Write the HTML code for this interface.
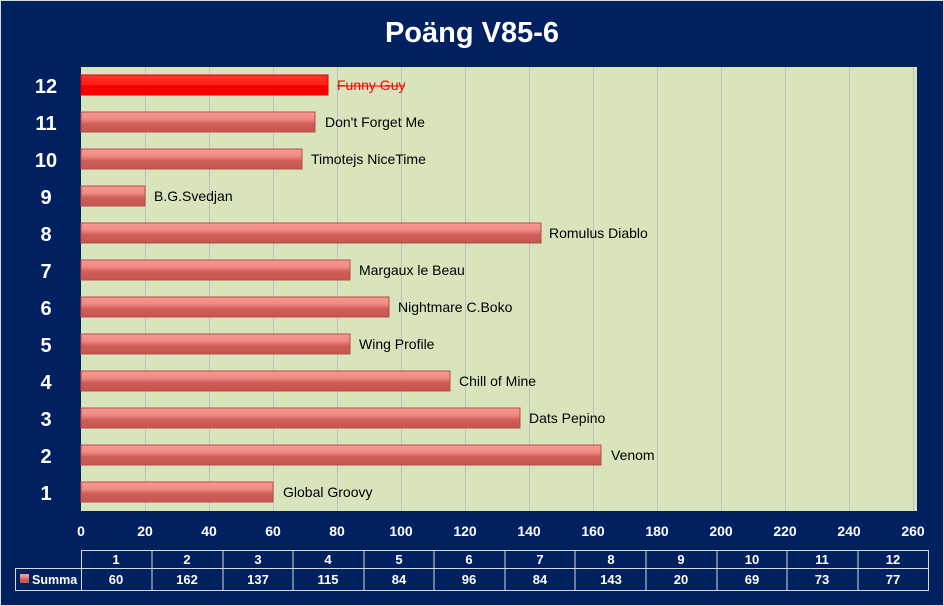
<!DOCTYPE html>
<html><head><meta charset="utf-8"><style>
html,body{margin:0;padding:0;background:#fff}
svg{display:block}
text{font-family:"Liberation Sans",sans-serif}
</style></head><body>
<svg width="944" height="606" xmlns="http://www.w3.org/2000/svg">
<defs>
<linearGradient id="g" x1="0" y1="0" x2="0" y2="1">
<stop offset="0" stop-color="#f99a92"/><stop offset="0.35" stop-color="#ef8a83"/><stop offset="0.6" stop-color="#cf5c57"/><stop offset="1" stop-color="#c65651"/>
</linearGradient>
<linearGradient id="r" x1="0" y1="0" x2="0" y2="1">
<stop offset="0" stop-color="#ff3a30"/><stop offset="0.5" stop-color="#ff1a10"/><stop offset="0.55" stop-color="#f00000"/><stop offset="1" stop-color="#ff0000"/>
</linearGradient>
</defs>
<rect x="0" y="0" width="944" height="606" fill="#d9d9d9"/>
<rect x="1" y="1" width="942" height="604" fill="#002060"/>
<text x="472" y="42" text-anchor="middle" fill="#fff" font-size="29" font-weight="bold">Poäng  V85-6</text>
<rect x="81" y="67" width="836" height="444" fill="#d8e4bc"/>
<g stroke="#bfbfbf" stroke-width="1">
<line x1="145.5" y1="67" x2="145.5" y2="511"/><line x1="209.5" y1="67" x2="209.5" y2="511"/><line x1="273.5" y1="67" x2="273.5" y2="511"/><line x1="337.5" y1="67" x2="337.5" y2="511"/><line x1="401.5" y1="67" x2="401.5" y2="511"/><line x1="465.5" y1="67" x2="465.5" y2="511"/><line x1="529.5" y1="67" x2="529.5" y2="511"/><line x1="593.5" y1="67" x2="593.5" y2="511"/><line x1="657.5" y1="67" x2="657.5" y2="511"/><line x1="721.5" y1="67" x2="721.5" y2="511"/><line x1="785.5" y1="67" x2="785.5" y2="511"/><line x1="849.5" y1="67" x2="849.5" y2="511"/><line x1="913.5" y1="67" x2="913.5" y2="511"/>
</g>
<g font-size="14" fill="#000">
<rect x="81" y="75" width="247" height="20" fill="url(#r)" stroke="#e00000"/>
<text x="337" y="90" fill="#ff0000">Funny Guy</text>
<line x1="337" y1="86" x2="405" y2="86" stroke="#ff0000" stroke-width="1"/>
<rect x="81" y="112" width="234" height="20" fill="url(#g)" stroke="#b84c48"/><text x="325" y="127">Don't Forget Me</text>
<rect x="81" y="149" width="221" height="20" fill="url(#g)" stroke="#b84c48"/><text x="311" y="164">Timotejs NiceTime</text>
<rect x="81" y="186" width="64" height="20" fill="url(#g)" stroke="#b84c48"/><text x="154" y="201">B.G.Svedjan</text>
<rect x="81" y="223" width="460" height="20" fill="url(#g)" stroke="#b84c48"/><text x="549" y="238">Romulus Diablo</text>
<rect x="81" y="260" width="269" height="20" fill="url(#g)" stroke="#b84c48"/><text x="359" y="275">Margaux le Beau</text>
<rect x="81" y="297" width="308" height="20" fill="url(#g)" stroke="#b84c48"/><text x="398" y="312">Nightmare C.Boko</text>
<rect x="81" y="334" width="269" height="20" fill="url(#g)" stroke="#b84c48"/><text x="359" y="349">Wing Profile</text>
<rect x="81" y="371" width="369" height="20" fill="url(#g)" stroke="#b84c48"/><text x="459" y="386">Chill of Mine</text>
<rect x="81" y="408" width="439" height="20" fill="url(#g)" stroke="#b84c48"/><text x="529" y="423">Dats Pepino</text>
<rect x="81" y="445" width="520" height="20" fill="url(#g)" stroke="#b84c48"/><text x="611" y="460">Venom</text>
<rect x="81" y="482" width="192" height="20" fill="url(#g)" stroke="#b84c48"/><text x="283" y="497">Global Groovy</text>
</g>
<g fill="#fff" font-size="20" font-weight="bold" text-anchor="middle">
<text x="46" y="93">12</text><text x="46" y="130">11</text><text x="46" y="167">10</text><text x="46" y="204">9</text><text x="46" y="241">8</text><text x="46" y="278">7</text><text x="46" y="315">6</text><text x="46" y="352">5</text><text x="46" y="389">4</text><text x="46" y="426">3</text><text x="46" y="463">2</text><text x="46" y="500">1</text>
</g>
<g fill="#fff" font-size="14" font-weight="bold" text-anchor="middle">
<text x="81" y="536">0</text><text x="145" y="536">20</text><text x="209" y="536">40</text><text x="273" y="536">60</text><text x="337" y="536">80</text><text x="401" y="536">100</text><text x="465" y="536">120</text><text x="529" y="536">140</text><text x="593" y="536">160</text><text x="657" y="536">180</text><text x="721" y="536">200</text><text x="785" y="536">220</text><text x="849" y="536">240</text><text x="913" y="536">260</text>
</g>
<g stroke="#d9d9d9" stroke-width="1" fill="none">
<rect x="81.5" y="550.5" width="847" height="40"/>
<rect x="15.5" y="568.5" width="66" height="22"/>
<line x1="81.5" y1="568.5" x2="928.5" y2="568.5"/>
<line x1="152" y1="550" x2="152" y2="591"/><line x1="223" y1="550" x2="223" y2="591"/><line x1="293" y1="550" x2="293" y2="591"/><line x1="364" y1="550" x2="364" y2="591"/><line x1="434" y1="550" x2="434" y2="591"/><line x1="505" y1="550" x2="505" y2="591"/><line x1="575" y1="550" x2="575" y2="591"/><line x1="646" y1="550" x2="646" y2="591"/><line x1="717" y1="550" x2="717" y2="591"/><line x1="787" y1="550" x2="787" y2="591"/><line x1="858" y1="550" x2="858" y2="591"/>
</g>
<rect x="20" y="574" width="9" height="9" fill="url(#g)"/>
<text x="32" y="584" fill="#fff" font-size="12.5" font-weight="bold">Summa</text>
<g fill="#fff" font-size="13" font-weight="bold" text-anchor="middle">
<text x="116" y="564">1</text><text x="187" y="564">2</text><text x="258" y="564">3</text><text x="328" y="564">4</text><text x="399" y="564">5</text><text x="469" y="564">6</text><text x="540" y="564">7</text><text x="611" y="564">8</text><text x="681" y="564">9</text><text x="752" y="564">10</text><text x="822" y="564">11</text><text x="893" y="564">12</text>
<text x="116" y="584">60</text><text x="187" y="584">162</text><text x="258" y="584">137</text><text x="328" y="584">115</text><text x="399" y="584">84</text><text x="469" y="584">96</text><text x="540" y="584">84</text><text x="611" y="584">143</text><text x="681" y="584">20</text><text x="752" y="584">69</text><text x="822" y="584">73</text><text x="893" y="584">77</text>
</g>
</svg>
</body></html>
